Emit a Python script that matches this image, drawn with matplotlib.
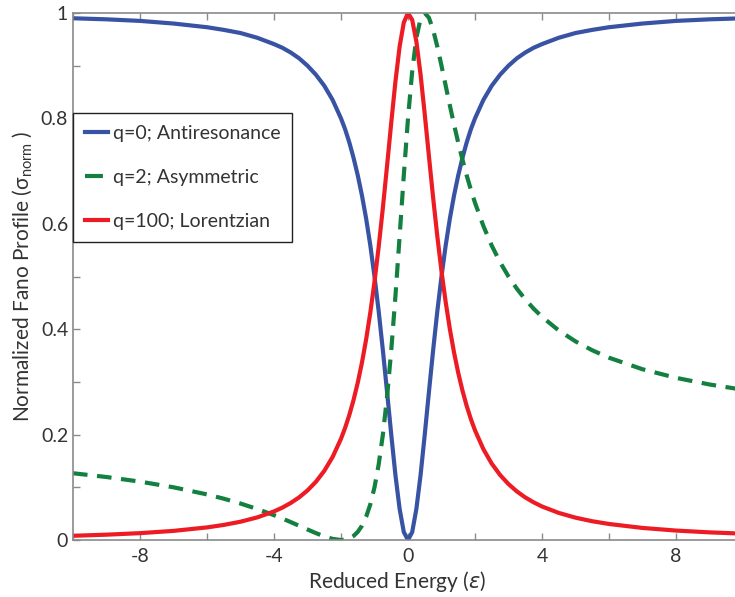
import matplotlib
matplotlib.use("Agg")
import matplotlib.pyplot as plt
from matplotlib.ticker import FixedLocator

plt.rcParams['font.family'] = ['Lato', 'DejaVu Sans']
plt.rcParams['mathtext.fontset'] = 'dejavusans'

# reduced energy samples
eps = [-10, -9, -8, -7, -6, -5.5, -5, -4.5, -4, -3.75, -3.5, -3.25, -3, -2.75, -2.5, -2.25,
       -2, -1.875, -1.75, -1.625, -1.5, -1.375, -1.25, -1.125, -1,
       -0.875, -0.75, -0.625, -0.5, -0.375, -0.25, -0.125, 0,
       0.125, 0.25, 0.375, 0.5, 0.625, 0.75, 0.875,
       1, 1.125, 1.25, 1.375, 1.5, 1.625, 1.75, 1.875, 2, 2.25, 2.5, 2.75, 3, 3.25, 3.5, 3.75,
       4, 4.5, 5, 5.5, 6, 7, 8, 9, 10]

# q=0; antiresonance
sig_q0 = [0.990, 0.988, 0.985, 0.980, 0.973, 0.968, 0.962, 0.953, 0.941, 0.934, 0.925, 0.914,
          0.900, 0.883, 0.862, 0.835, 0.800, 0.779, 0.754, 0.725, 0.692, 0.654, 0.610, 0.559, 0.500,
          0.434, 0.360, 0.281, 0.200, 0.123, 0.059, 0.015, 0.0,
          0.015, 0.059, 0.123, 0.200, 0.281, 0.360, 0.434,
          0.500, 0.559, 0.610, 0.654, 0.692, 0.725, 0.754, 0.779, 0.800, 0.835, 0.862, 0.883,
          0.900, 0.914, 0.925, 0.934, 0.941, 0.953, 0.962, 0.968, 0.973, 0.980, 0.985, 0.988, 0.990]

# q=2; asymmetric
sig_q2 = [0.1267, 0.1195, 0.1108, 0.1000, 0.0865, 0.0784, 0.0692, 0.0588, 0.0471, 0.0407, 0.0340,
          0.0270, 0.0200, 0.0131, 0.0069, 0.0021, 0.0, 0.0007, 0.0031, 0.0077, 0.0154, 0.0270,
          0.0439, 0.0676, 0.1000,
          0.1434, 0.2000, 0.2719, 0.3600, 0.4630, 0.5765, 0.6923, 0.8000,
          0.8892, 0.9529, 0.9890, 1.0000, 0.9910, 0.9680, 0.9363,
          0.9000, 0.8621, 0.8244, 0.7881, 0.7538, 0.7219, 0.6923, 0.6650, 0.6400, 0.5959, 0.5586,
          0.5270, 0.5000, 0.4768, 0.4566, 0.4390, 0.4235, 0.3976, 0.3769, 0.3600, 0.3459, 0.3240,
          0.3077, 0.2951, 0.2851]

# q=100; lorentzian
sig_q100 = [0.0080, 0.0101, 0.0130, 0.0173, 0.0239, 0.0286, 0.0347, 0.0429, 0.0542, 0.0615, 0.0703,
            0.0809, 0.0941, 0.1104, 0.1311, 0.1576, 0.1921, 0.2132, 0.2376, 0.2658, 0.2985, 0.3365,
            0.3805, 0.4315, 0.4900,
            0.5565, 0.6304, 0.7101, 0.7919, 0.8701, 0.9364, 0.9821, 0.9999,
            0.9870, 0.9458, 0.8832, 0.8079, 0.7280, 0.6496, 0.5763,
            0.5100, 0.4513, 0.4000, 0.3555, 0.3170, 0.2837, 0.2548, 0.2298, 0.2081, 0.1724, 0.1449,
            0.1233, 0.1061, 0.0922, 0.0808, 0.0715, 0.0636, 0.0514, 0.0424, 0.0356, 0.0304, 0.0229,
            0.0179, 0.0145, 0.0120]

labels = ['q=0; Antiresonance', 'q=2; Asymmetric', 'q=100; Lorentzian']
xticks = [-8, -4, 0, 4, 8]
xticks_minor = [-10, -6, -2, 2, 6, 10]
yticks = [0, 0.2, 0.4, 0.6, 0.8, 1]
yticks_minor = [0.1, 0.3, 0.5, 0.7, 0.9]

txt = '#333333'
axc = '#8a8a8a'

fig = plt.figure(figsize=(7.35, 5.97), dpi=100)
# right part of the axes is cut off by the figure edge, like the original
ax = fig.add_axes([73 / 735, 57 / 597, 670 / 735, 527 / 597])

ax.plot(eps, sig_q0, color='#3953a4', lw=3, label=labels[0])
ax.plot(eps, sig_q2, color='#138040', lw=3, dashes=(3.5, 2.3), label=labels[1])
ax.plot(eps, sig_q100, color='#ed1c24', lw=3, label=labels[2])

ax.set_xlim(-10, 10)
ax.set_ylim(0, 1)
ax.xaxis.set_major_locator(FixedLocator(xticks))
ax.xaxis.set_minor_locator(FixedLocator(xticks_minor))
ax.yaxis.set_major_locator(FixedLocator(yticks))
ax.yaxis.set_minor_locator(FixedLocator(yticks_minor))
ax.set_xticklabels([f'{v:g}' for v in xticks])
ax.set_yticklabels([f'{v:g}' for v in yticks])
ax.tick_params(which='both', direction='in', top=True, right=True, length=5,
               color=axc, width=1, labelsize=14, labelcolor=txt)
ax.tick_params(axis='x', pad=6)
for s in ax.spines.values():
    s.set_color(axc)
    s.set_linewidth(1.2)

ax.set_xlabel(r'Reduced Energy ($\epsilon$)', fontsize=15, color=txt)
ax.xaxis.set_label_coords(0.484, -0.055)
ax.set_ylabel(r'Normalized Fano Profile ($\mathregular{\sigma_{norm}}$ )', fontsize=15,
              color=txt, labelpad=5)

leg = ax.legend(loc='upper left', bbox_to_anchor=(0, 0.81), fontsize=14, handlelength=1.2,
                labelspacing=1.4, borderaxespad=0, fancybox=False, framealpha=1,
                handletextpad=0.25, borderpad=0.6)
leg.get_frame().set_edgecolor('#222222')
leg.get_frame().set_linewidth(1)
for t in leg.get_texts():
    t.set_color(txt)
# green handle shows a single dash, as in the original
leg.get_lines()[1].set_dashes((4.3, 10))

fig.savefig('out.png', dpi=100)
